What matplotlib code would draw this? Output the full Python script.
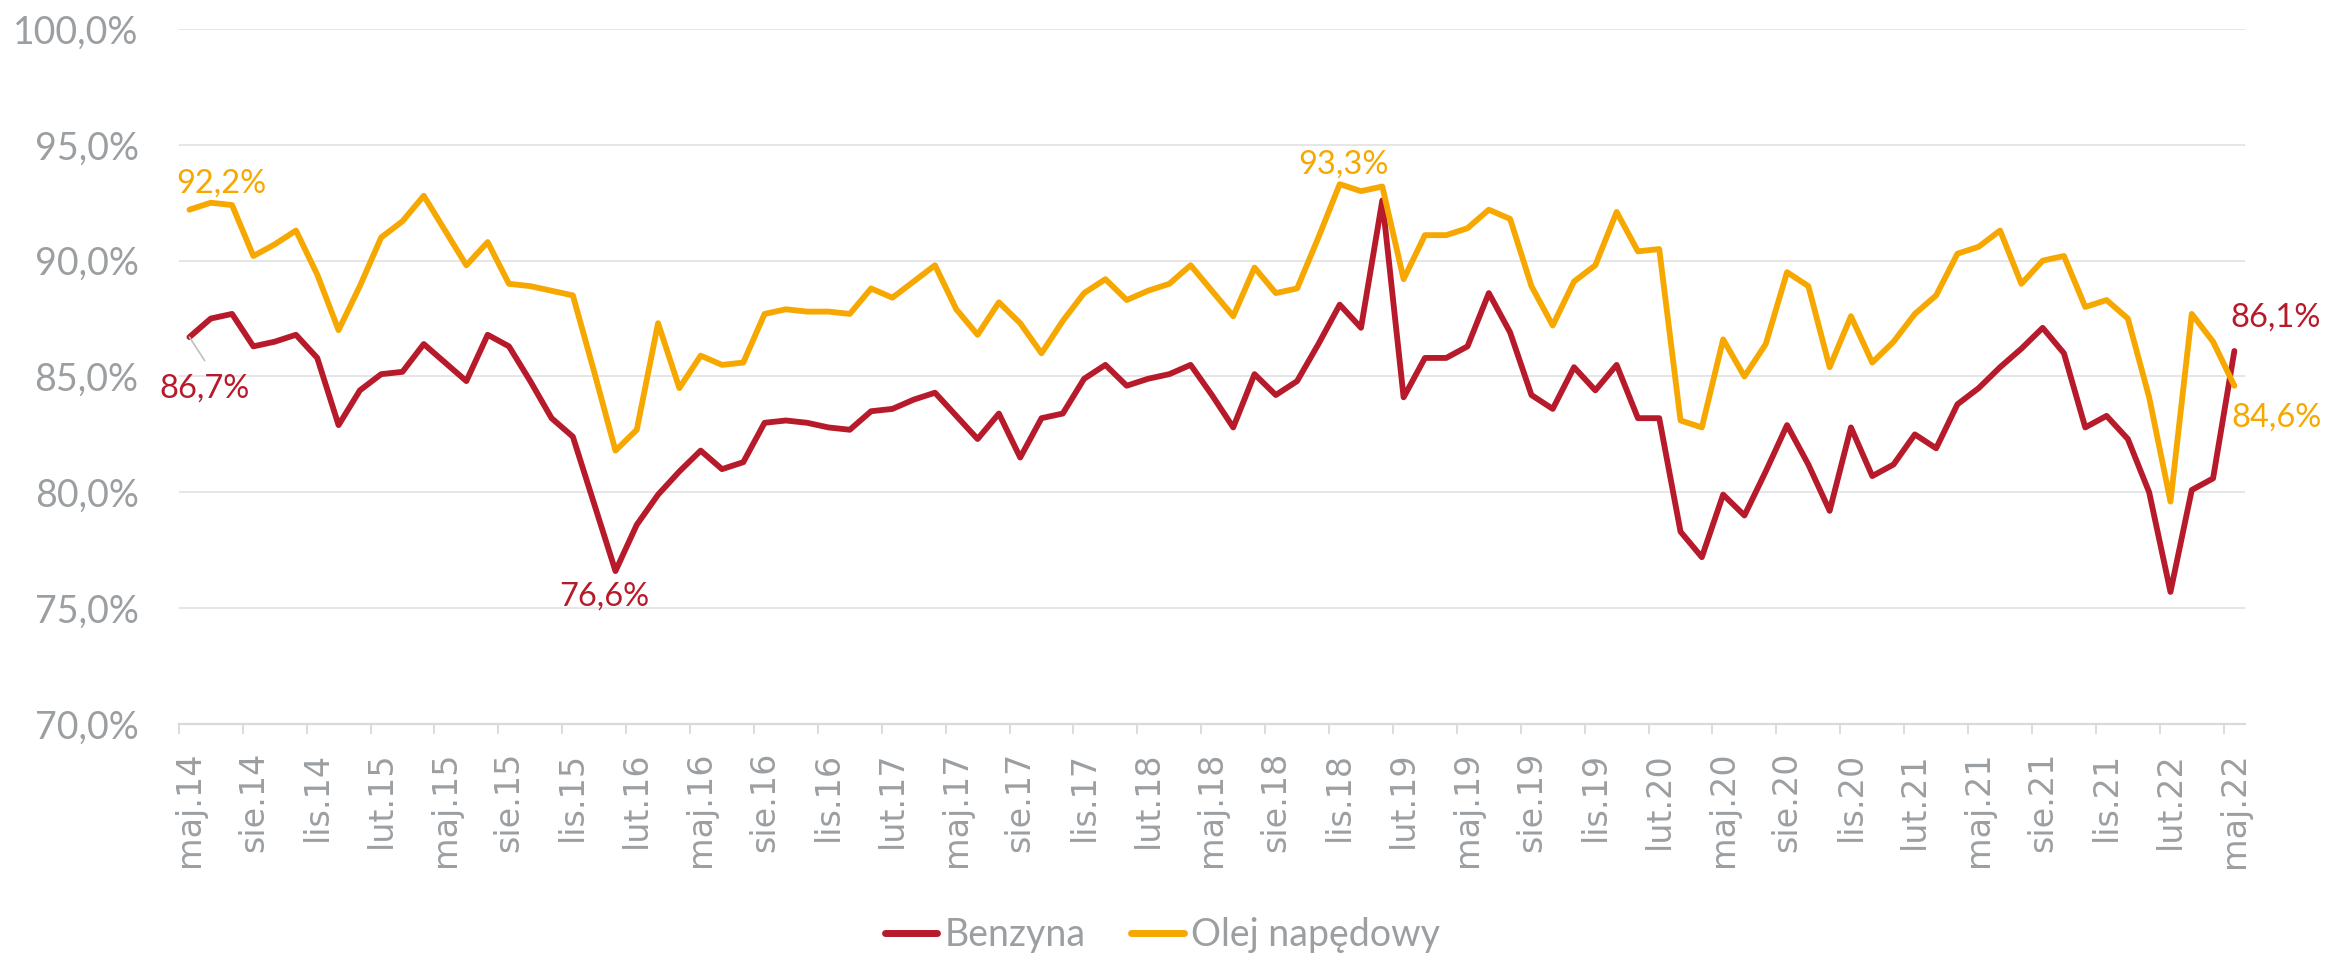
# wykres: wykorzystanie mocy - benzyna vs olej napedowy, miesiecznie 05.2014-05.2022

import numpy as np
import matplotlib
matplotlib.use("Agg")
import matplotlib.pyplot as plt

# miesieczne wartosci w %, od maj.14 do maj.22
benzyna = [
    86.7, 87.5, 87.7, 86.3, 86.5, 86.8, 85.8, 82.9, 84.4, 85.1, 85.2, 86.4,
    85.6, 84.8, 86.8, 86.3, 84.8, 83.2, 82.4, 79.5, 76.6, 78.6, 79.9, 80.9,
    81.8, 81.0, 81.3, 83.0, 83.1, 83.0, 82.8, 82.7, 83.5, 83.6, 84.0, 84.3,
    83.3, 82.3, 83.4, 81.5, 83.2, 83.4, 84.9, 85.5, 84.6, 84.9, 85.1, 85.5,
    84.2, 82.8, 85.1, 84.2, 84.8, 86.4, 88.1, 87.1, 92.6, 84.1, 85.8, 85.8,
    86.3, 88.6, 86.9, 84.2, 83.6, 85.4, 84.4, 85.5, 83.2, 83.2, 78.3, 77.2,
    79.9, 79.0, 80.9, 82.9, 81.2, 79.2, 82.8, 80.7, 81.2, 82.5, 81.9, 83.8,
    84.5, 85.4, 86.2, 87.1, 86.0, 82.8, 83.3, 82.3, 80.0, 75.7, 80.1, 80.6,
    86.1,
]
olej = [
    92.2, 92.5, 92.4, 90.2, 90.7, 91.3, 89.4, 87.0, 88.9, 91.0, 91.7, 92.8,
    91.3, 89.8, 90.8, 89.0, 88.9, 88.7, 88.5, 85.2, 81.8, 82.7, 87.3, 84.5,
    85.9, 85.5, 85.6, 87.7, 87.9, 87.8, 87.8, 87.7, 88.8, 88.4, 89.1, 89.8,
    87.9, 86.8, 88.2, 87.3, 86.0, 87.4, 88.6, 89.2, 88.3, 88.7, 89.0, 89.8,
    88.7, 87.6, 89.7, 88.6, 88.8, 91.0, 93.3, 93.0, 93.2, 89.2, 91.1, 91.1,
    91.4, 92.2, 91.8, 88.9, 87.2, 89.1, 89.8, 92.1, 90.4, 90.5, 83.1, 82.8,
    86.6, 85.0, 86.4, 89.5, 88.9, 85.4, 87.6, 85.6, 86.5, 87.7, 88.5, 90.3,
    90.6, 91.3, 89.0, 90.0, 90.2, 88.0, 88.3, 87.5, 84.1, 79.6, 87.7, 86.5,
    84.6,
]

# etykiety osi X co 3 miesiace
miesiace = ["maj", "sie", "lis", "lut"]
etykiety_x = []
for k in range(33):
    rok = 14 + (k + 1) // 4
    etykiety_x.append(f"{miesiace[k % 4]}.{rok}")

# podpisane punkty: (seria, indeks miesiaca, przesuniecie w pt)
podpisy_benzyna = [(0, (11, -37)), (20, (-8, -18)), (96, (30, 24))]
podpisy_olej = [(0, (23, 19)), (54, (3, 14)), (96, (30, -23))]

CZERWONY = "#B71A2A"
POMARANCZ = "#F7A800"
SZARY = "#9B9FA2"


def pct(v):
    return f"{v:.1f}%".replace(".", ",")


plt.rcParams["font.family"] = ["Lato", "DejaVu Sans"]

fig = plt.figure(figsize=(23.25, 9.56), dpi=100)
ax = fig.add_axes([0.0769, 0.2427, 0.8887, 0.727])

x = np.arange(len(benzyna))
ax.plot(x, benzyna, color=CZERWONY, lw=4.2, solid_joinstyle="round",
        solid_capstyle="round", label="Benzyna", zorder=3)
ax.plot(x, olej, color=POMARANCZ, lw=4.2, solid_joinstyle="round",
        solid_capstyle="round", label="Olej napędowy", zorder=3)

ax.set_xlim(-0.5, len(benzyna) - 0.5)
ax.set_ylim(70, 100)

# siatka pozioma
ax.set_yticks(np.arange(70, 101, 5))
ax.set_yticklabels([pct(v) for v in np.arange(70, 101, 5)])
ax.grid(axis="y", color="#E4E4E4", lw=1.3, zorder=0)
ax.tick_params(axis="y", length=0, pad=29, labelsize=27, labelcolor=SZARY)

# os X: etykiety przy miesiacach, kreski na granicach kategorii
ax.set_xticks(x[::3])
ax.set_xticklabels(etykiety_x, rotation=90, family="DejaVu Sans")
ax.set_xticks(x[::3] - 0.5, minor=True)
ax.tick_params(axis="x", which="major", length=0, pad=20, labelsize=24,
               labelcolor=SZARY)
ax.tick_params(axis="x", which="minor", length=7.5, width=1.3,
               color="#D9D9D9")

for s in ["top", "right", "left"]:
    ax.spines[s].set_visible(False)
ax.spines["bottom"].set_color("#D9D9D9")
ax.spines["bottom"].set_linewidth(1.6)

# podpisy wartosci
for i, off in podpisy_benzyna:
    ax.annotate(pct(benzyna[i]), (x[i], benzyna[i]), xytext=off,
                textcoords="offset points", ha="center", va="center",
                fontsize=23.5, color=CZERWONY)
for i, off in podpisy_olej:
    ax.annotate(pct(olej[i]), (x[i], olej[i]), xytext=off,
                textcoords="offset points", ha="center", va="center",
                fontsize=23.5, color=POMARANCZ)

# linia odniesienia do pierwszego podpisu benzyny
ax.annotate("", (x[0], benzyna[0]), xytext=(11, -17),
            textcoords="offset points",
            arrowprops=dict(arrowstyle="-", color="#BFBFBF", lw=1.2,
                            shrinkA=0, shrinkB=0))

leg = fig.legend(loc="center", bbox_to_anchor=(0.5, 0.022), ncol=2,
                 frameon=False, fontsize=27, handlelength=1.4,
                 handletextpad=0.2, columnspacing=1.2)
for t in leg.get_texts():
    t.set_color(SZARY)
for h in leg.get_lines():
    h.set_linewidth(5)

fig.savefig("out.png", dpi=100)
